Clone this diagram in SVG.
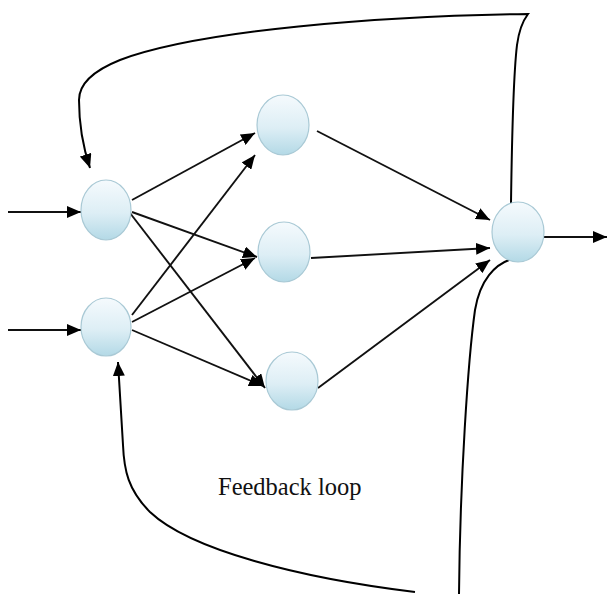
<svg xmlns="http://www.w3.org/2000/svg" width="608" height="594" viewBox="0 0 608 594">
<style>
.node{fill:url(#g);stroke:#a9c9d5;stroke-width:1.2}
.edge{fill:none;stroke:#111;stroke-width:1.9;marker-end:url(#ah)}
.fb{fill:none;stroke:#000;stroke-width:2}
.lbl{font-family:"Liberation Serif","Times New Roman",serif;font-size:24.5px;fill:#111}
</style>
<defs>
<linearGradient id="g" x1="0" y1="0" x2="0" y2="1">
<stop offset="0" stop-color="#f5fafd"/>
<stop offset="0.55" stop-color="#ddeef5"/>
<stop offset="1" stop-color="#b3d9e6"/>
</linearGradient>
<marker id="ah" markerUnits="userSpaceOnUse" markerWidth="14" markerHeight="12" refX="14" refY="6" orient="auto">
<path d="M0,0 L14,6 L0,12 z" fill="#000"/>
</marker>
</defs>
<rect width="608" height="594" fill="#fff"/>
<g id="connectors">
<path class="edge" d="M8,212 L81,212"/>
<path class="edge" d="M8,330 L81,330"/>
<path class="edge" d="M132,200 L255,133"/>
<path class="edge" d="M132,212 L257,257"/>
<path class="edge" d="M130,213 L265,388"/>
<path class="edge" d="M132,315 L255,155"/>
<path class="edge" d="M132,322 L255,258"/>
<path class="edge" d="M132,330 L263,386"/>
<path class="edge" d="M317,131 L490,220"/>
<path class="edge" d="M311,258 L490,248"/>
<path class="edge" d="M318,388 L490,260"/>
<path class="edge" d="M544,237 L607,237"/>
<path class="fb" d="M511,203 C512,130 514,70 517,45 C519,30 522,22 528,14 C380,16 200,30 120,60 C90,72 79,85 79,100 C79,130 84,150 90,168" marker-end="url(#ah)"/>
<path class="fb" d="M415,592 C300,578 190,550 150,512 C128,490 124,470 123,445 L118,362" marker-end="url(#ah)"/>
<path class="fb" d="M512,259 C495,264 480,280 475,310 C468,360 460,480 459,594"/>
</g>
<g id="node-in1"><ellipse class="node" cx="106" cy="210" rx="25" ry="30"/></g>
<g id="node-in2"><ellipse class="node" cx="106" cy="327" rx="25" ry="29"/></g>
<g id="node-h1"><ellipse class="node" cx="283" cy="125" rx="26" ry="30"/></g>
<g id="node-h2"><ellipse class="node" cx="284" cy="252" rx="26" ry="30"/></g>
<g id="node-h3"><ellipse class="node" cx="292" cy="381" rx="26" ry="29"/></g>
<g id="node-out"><ellipse class="node" cx="518" cy="232" rx="26" ry="30"/></g>
<g id="label"><text class="lbl" x="218" y="495">Feedback loop</text></g>
</svg>
